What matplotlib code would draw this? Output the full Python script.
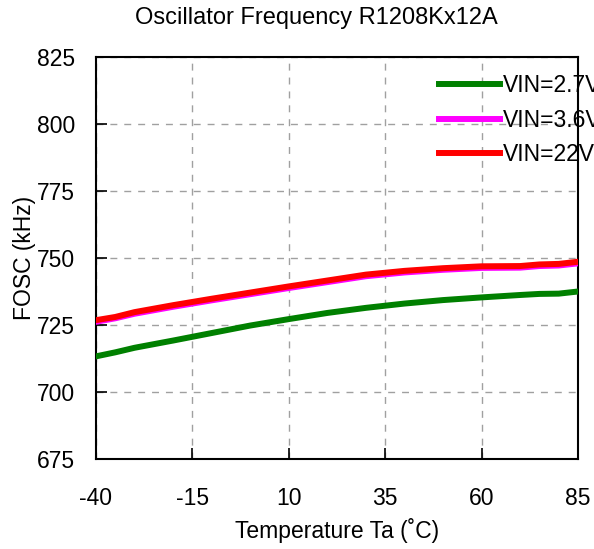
import matplotlib
matplotlib.use("Agg")
import matplotlib.pyplot as plt

plt.rcParams["font.family"] = ["Liberation Sans", "DejaVu Sans"]
plt.rcParams["axes.unicode_minus"] = False

# temperature (degC)
temp = [-40, -35, -30, -20, -10, 0, 10, 20, 30, 40, 50, 60, 70, 75, 80, 85]
# oscillator frequency (kHz)
f_27 = [713.3, 714.8, 716.5, 719.2, 722.0, 724.8, 727.2, 729.5, 731.4, 733.0,
        734.3, 735.3, 736.2, 736.6, 736.7, 737.5]
f_36 = [726.2, 727.5, 729.2, 731.8, 734.2, 736.5, 738.8, 741.0, 743.2, 744.6,
        745.6, 746.3, 746.4, 747.0, 747.2, 748.0]
f_22 = [726.8, 728.0, 729.8, 732.4, 734.8, 737.1, 739.4, 741.6, 743.8, 745.2,
        746.2, 746.9, 747.0, 747.6, 747.8, 748.6]
labels = ["VIN=2.7V", "VIN=3.6V", "VIN=22V"]
x_ticks = [-40, -15, 10, 35, 60, 85]
y_ticks = [675, 700, 725, 750, 775, 800, 825]

fig = plt.figure(figsize=(5.94, 5.49), dpi=100)
ax = fig.add_axes([96 / 594, 1 - 459 / 549, 482 / 594, 402 / 549])

ax.plot(temp, f_27, color="#008000", lw=4.3, label=labels[0], zorder=3)
ax.plot(temp, f_36, color="#ff00ff", lw=4.3, label=labels[1], zorder=3)
ax.plot(temp, f_22, color="#ff0000", lw=4.3, label=labels[2], zorder=4)

ax.set_xlim(-40, 85)
ax.set_ylim(675, 825)
ax.set_xticks(x_ticks)
ax.set_yticks(y_ticks)
ax.grid(True, color="#a0a0a0", linestyle=(0, (5, 5)), linewidth=1)
ax.tick_params(direction="in", length=8, width=1.2, labelsize=16.5)
ax.tick_params(axis="x", pad=20)
ax.tick_params(axis="y", pad=15)
for s in ax.spines.values():
    s.set_linewidth(1.5)

ax.set_xlabel("Temperature Ta (˚C)", fontsize=16.5, labelpad=6)
ax.set_ylabel("FOSC (kHz)", fontsize=16.5, labelpad=1)

fig.text(316 / 594, 1 - 18 / 549, "Oscillator Frequency R1208Kx12A",
         fontsize=17, ha="center", va="center")

ax.legend(loc="upper left", bbox_to_anchor=(0.693, 0.98), frameon=False,
          fontsize=16.5, handlelength=2.65, handletextpad=0.15,
          labelspacing=0.5, borderaxespad=0)

fig.savefig("out.png", dpi=100)
